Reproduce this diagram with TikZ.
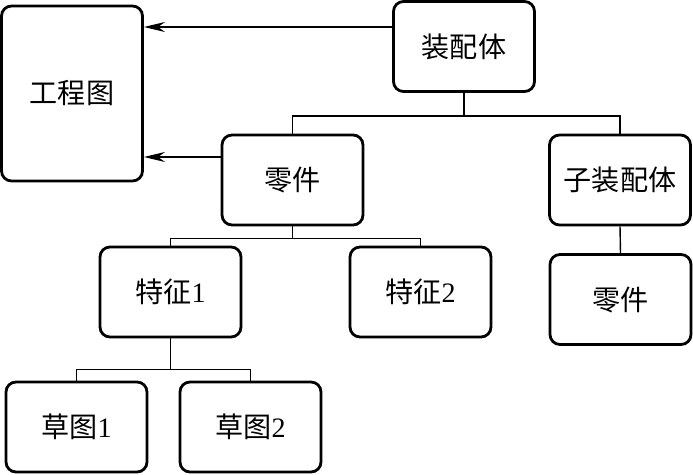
\documentclass[tikz,border=0pt]{standalone}
\usepackage{fontspec}
\setmainfont{Liberation Serif}
\newfontfamily\cjk{Noto Sans CJK SC}
\usetikzlibrary{arrows.meta}
\usetikzlibrary{positioning}

\tikzset{
  box/.style={draw,line width=1.6pt,rounded corners=0.2cm,minimum width=2.82cm,minimum height=1.8cm,inner sep=0pt,font=\fontsize{16}{19}\selectfont},
  link/.style={line width=0.8pt},
  feed/.style={line width=1pt,-{Stealth[length=0.42cm,width=0.2cm]}}
}

\begin{document}
\begin{tikzpicture}
\useasboundingbox (0,0) rectangle (13.86,-9.5);

\node[box,minimum height=3.5cm] (drawing) at (1.44,-1.87) {\cjk 工程图};
\node[box] (asm) at (9.28,-0.93) {\cjk 装配体};
\node[box] (part) at (5.85,-3.6) {\cjk 零件};
\node[box] (subasm) at (12.4,-3.6) {\cjk 子装配体};
\node[box] (subpart) at (12.41,-5.99) {\cjk 零件};
\node[box] (feat1) at (3.41,-5.84) {{\cjk 特征}1};
\node[box] (feat2) at (8.41,-5.84) {{\cjk 特征}2};
\node[box] (sketch1) at (1.53,-8.54) {{\cjk 草图}1};
\node[box] (sketch2) at (5.01,-8.54) {{\cjk 草图}2};

% tree links
\draw[link] (asm.south) -- ++(0,-0.46) coordinate (asmbus);
\draw[link] (asmbus) -| (part.north);
\draw[link] (asmbus) -| (subasm.north);
\draw[link] (subasm.south) -- (subpart.north);
\draw[link] (part.south) -- ++(0,-0.24) coordinate (partbus);
\draw[link] (partbus) -| (feat1.north);
\draw[link] (partbus) -| (feat2.north);
\draw[link] (feat1.south) -- ++(0,-0.62) coordinate (featbus);
\draw[link] (featbus) -| (sketch1.north);
\draw[link] (featbus) -| (sketch2.north);

% arrows to the drawing
\draw[feed] ([yshift=0.39cm]asm.west) -- ([yshift=0.39cm]asm.west -| drawing.east);
\draw[feed] ([yshift=0.46cm]part.west) -- ([yshift=0.46cm]part.west -| drawing.east);

\end{tikzpicture}
\end{document}
